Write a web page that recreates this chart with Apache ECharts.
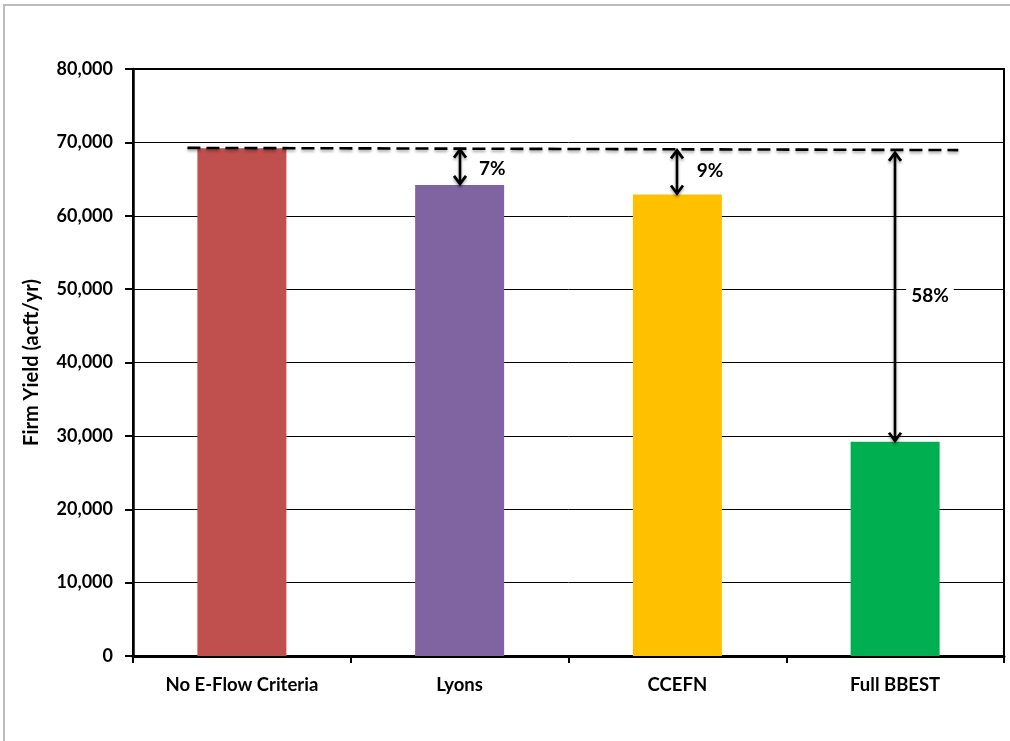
<!DOCTYPE html>
<html>
<head>
<meta charset="utf-8">
<script src="https://cdn.jsdelivr.net/npm/echarts@6/dist/echarts.min.js"></script>
<style>
  html, body { margin: 0; padding: 0; background: #fff; }
  #chart { width: 1010px; height: 741px; }
</style>
</head>
<body>
<div id="chart"></div>
<script>
// Firm yield by environmental-flow scenario
const categories = ['No E-Flow Criteria', 'Lyons', 'CCEFN', 'Full BBEST'];
const firmYield = [69200, 64200, 62900, 29200];
const barColors = ['#C0504D', '#8064A2', '#FFC000', '#00B050'];
const yTicks = ['0', '10,000', '20,000', '30,000', '40,000', '50,000', '60,000', '70,000', '80,000'];

// Reference line drawn at the unconstrained yield (x in category units, 0..4)
const refLineX = [0.25, 3.79];
const refLineY = [69250, 68950];

// Reduction arrows: category position, upper end, lower end (bar top)
const arrowX = [1.5, 2.5, 3.5];
const arrowTop = [69150, 69050, 68700];
const arrowBottom = [64200, 62900, 29200];

// Reduction labels and their anchor positions
const pctLabels = ['7%', '9%', '58%'];
const pctLabelX = [1.65, 2.65, 3.66];
const pctLabelY = [66400, 66050, 49100];

const FONT = 'Lato, "Open Sans", sans-serif';

const chart = echarts.init(document.getElementById('chart'));

function chevron(x, y, dir) {
  // open arrowhead; dir = -1 points up, +1 points down
  const w = 6, h = 8;
  return {
    type: 'polyline',
    shape: { points: [[x - w, y - dir * h], [x, y], [x + w, y - dir * h]] },
    style: { stroke: '#000', lineWidth: 2.8, fill: null, lineJoin: 'miter',
             shadowBlur: 3, shadowColor: 'rgba(0,0,0,0.35)', shadowOffsetY: 2 }
  };
}

const frameStyle = { stroke: '#bdbdbd', lineWidth: 2 };

const option = {
  backgroundColor: '#fff',
  animation: false,
  graphic: [{
    // outer chart-area frame (top and left edges)
    type: 'polyline',
    shape: { points: [[4, 741], [4, 5], [1010, 5]] },
    style: frameStyle,
    silent: true, z: -10
  }],
  grid: {
    left: 133, right: 6, top: 69, bottom: 85,
    show: true, borderColor: '#000', borderWidth: 2
  },
  xAxis: [{
    type: 'category',
    data: categories,
    axisLine: { lineStyle: { color: '#000', width: 3 } },
    axisTick: { show: true, length: 7, lineStyle: { color: '#000', width: 2 } },
    axisLabel: { color: '#000', fontFamily: FONT, fontWeight: 'bold', fontSize: 18.5, margin: 20 }
  }, {
    type: 'value', min: 0, max: 4, show: false
  }],
  yAxis: {
    type: 'value',
    min: 0, max: 80000, interval: 10000,
    name: 'Firm Yield (acft/yr)',
    nameLocation: 'middle',
    nameGap: 91,
    nameTextStyle: { color: '#000', fontFamily: FONT, fontWeight: 'bold', fontSize: 20 },
    axisLine: { show: true, lineStyle: { color: '#000', width: 2.5 } },
    axisTick: { show: true, length: 8, lineStyle: { color: '#000', width: 2 } },
    axisLabel: {
      color: '#000', fontFamily: FONT, fontWeight: 'bold', fontSize: 18, margin: 20,
      formatter: (v) => yTicks[Math.round(v / 10000)]
    },
    splitLine: { show: true, lineStyle: { color: '#000', width: 1 } }
  },
  series: [{
    type: 'bar',
    data: firmYield.map((v, i) => ({ value: v, itemStyle: { color: barColors[i] } })),
    barWidth: 89,
    z: 2
  }, {
    // dashed reference line
    type: 'line',
    xAxisIndex: 1,
    data: refLineX.map((x, i) => [x, refLineY[i]]),
    symbol: 'none',
    lineStyle: { color: '#000', width: 2.6, type: [13, 6],
                 shadowBlur: 3, shadowColor: 'rgba(0,0,0,0.35)', shadowOffsetY: 2 },
    z: 5
  }, {
    // double-headed reduction arrows
    type: 'custom',
    xAxisIndex: 1,
    data: arrowX.map((x, i) => [x, arrowTop[i], arrowBottom[i]]),
    renderItem: function (params, api) {
      const top = api.coord([api.value(0), api.value(1)]);
      const bot = api.coord([api.value(0), api.value(2)]);
      const x = Math.round(top[0]);
      return {
        type: 'group',
        children: [{
          type: 'line',
          shape: { x1: x, y1: top[1] + 1, x2: x, y2: bot[1] - 1 },
          style: { stroke: '#000', lineWidth: 2.6,
                   shadowBlur: 3, shadowColor: 'rgba(0,0,0,0.35)', shadowOffsetY: 2 }
        },
        chevron(x, top[1] + 1, -1),
        chevron(x, bot[1] - 1, 1)]
      };
    },
    z: 6
  }, {
    // percentage labels
    type: 'scatter',
    xAxisIndex: 1,
    data: pctLabelX.map((x, i) => ({ value: [x, pctLabelY[i]], name: pctLabels[i] })),
    symbolSize: 0,
    itemStyle: { opacity: 1, color: '#000' },
    label: {
      show: true, position: 'inside',
      formatter: (p) => p.name,
      color: '#000', fontFamily: FONT, fontWeight: 'bold', fontSize: 19,
      textBorderWidth: 0, textBorderColor: 'transparent', opacity: 1,
      backgroundColor: '#fff', padding: [2, 5]
    },
    z: 7
  }]
};

chart.setOption(option);
</script>
</body>
</html>
